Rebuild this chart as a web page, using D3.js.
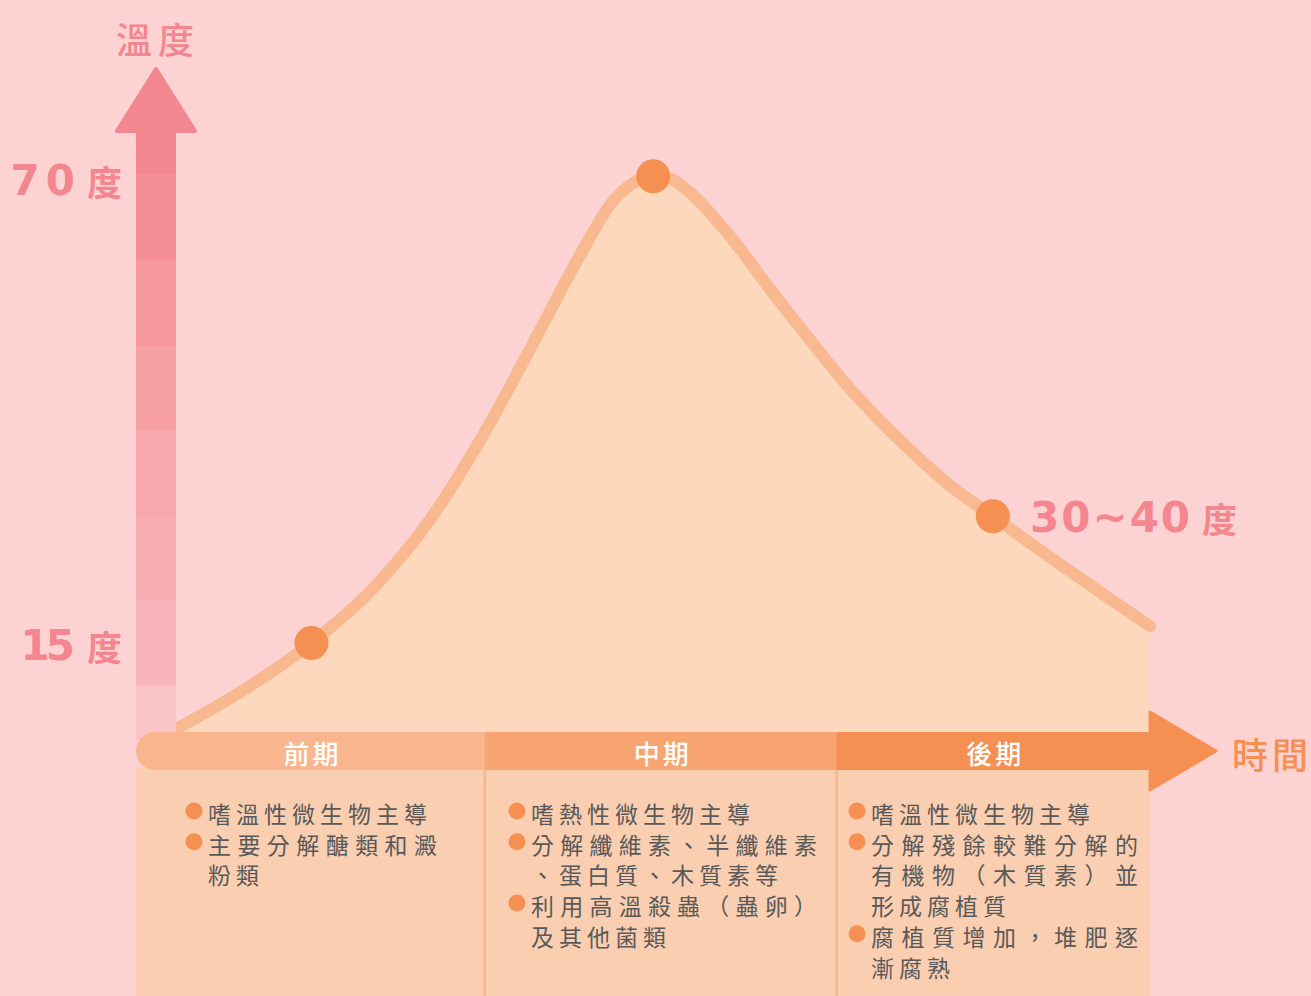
<!DOCTYPE html>
<html>
<head>
<meta charset="utf-8">
<script src="https://cdn.jsdelivr.net/npm/d3@7"></script>
<style>
  html, body { margin: 0; padding: 0; background: #FCD3D2; }
  svg { display: block; }
  .cjk { font-family: "Noto Sans CJK TC", "Noto Sans CJK SC", sans-serif; }
</style>
</head>
<body>
<svg id="chart" width="1311" height="996"></svg>
<script>
// curve samples: time (0-100 across the time axis) and temperature
const curveTimes = [3.9, 10.3, 17.3, 23.1, 29.0, 34.9, 39.8, 43.8, 47.2, 49.2, 51.0, 52.9, 54.6, 58.6, 62.5, 66.5, 70.4, 75.4, 80.3, 84.5, 90.1, 95.1, 100];
const curveTemps = [4.8, 9.2, 15.0, 21.1, 29.6, 41.0, 51.9, 60.9, 67.5, 69.5, 70.2, 69.8, 68.3, 63.1, 56.9, 50.8, 45.1, 38.9, 33.6, 30.0, 25.2, 21.0, 17.0];

// highlighted points
const markerTimes = [17.3, 51.0, 84.5];
const markerTemps = [15, 70.2, 30];

// temperature labels
const tempTicks = [15, 70];
const tempTickLabels = ["15", "70"];
const rangeLabel = "30~40";

// phases
const phaseNames = ["前期", "中期", "後期"];
const phaseBounds = [0, 34.4, 69.1, 100];
const phaseNotes = [
  [["嗜溫性微生物主導"], ["主要分解醣類和澱", "粉類"]],
  [["嗜熱性微生物主導"], ["分解纖維素、半纖維素", "、蛋白質、木質素等"], ["利用高溫殺蟲（蟲卵）", "及其他菌類"]],
  [["嗜溫性微生物主導"], ["分解殘餘較難分解的", "有機物（木質素）並", "形成腐植質"], ["腐植質增加，堆肥逐", "漸腐熟"]]
];

const svg = d3.select("#chart");

const x = d3.scaleLinear().domain([0, 100]).range([136, 1150]);
const y = d3.scaleLinear().domain([15, 70]).range([643, 178]);

const baseY = 735;
const barTop = 732, barH = 38;
const smooth = d3.curveMonotoneX;

// ---- area + curve
const pts = curveTimes.map((t, i) => [t, curveTemps[i]]);

svg.append("path")
  .datum(pts)
  .attr("fill", "#FDD8BD")
  .attr("d", d3.area()
    .x(d => x(d[0]))
    .y0(baseY)
    .y1(d => y(d[1]))
    .curve(smooth));

svg.append("path")
  .datum(pts)
  .attr("fill", "none")
  .attr("stroke", "#F9B990")
  .attr("stroke-width", 12)
  .attr("stroke-linecap", "round")
  .attr("d", d3.line()
    .x(d => x(d[0]))
    .y(d => y(d[1]))
    .curve(smooth));

// ---- vertical temperature arrow
const segColors = ["#F38790", "#F48E95", "#F5979D", "#F69FA5", "#F7A7AD", "#F7ACB1", "#F8B5B9", "#FAC3C6"];
const segEdges = [133, 174, 259.5, 345, 430, 515, 600, 685.5, 740];
svg.append("g").selectAll("rect")
  .data(segColors)
  .join("rect")
  .attr("x", 136)
  .attr("width", 40)
  .attr("y", (d, i) => segEdges[i])
  .attr("height", (d, i) => segEdges[i + 1] - segEdges[i] + 0.5)
  .attr("fill", d => d);

svg.append("path")
  .attr("d", "M156,69 L117,131 L195,131 Z")
  .attr("fill", "#F38790")
  .attr("stroke", "#F38790")
  .attr("stroke-width", 4)
  .attr("stroke-linejoin", "round");

// ---- columns under the time bar
const colGroup = svg.append("g");
colGroup.append("rect")
  .attr("x", x(0)).attr("y", barTop + barH - 2)
  .attr("width", x(100) - x(0)).attr("height", 996 - barTop - barH + 2)
  .attr("fill", "#FACEB0");

colGroup.selectAll("line")
  .data(phaseBounds.slice(1, 3))
  .join("line")
  .attr("x1", d => x(d)).attr("x2", d => x(d))
  .attr("y1", barTop + barH).attr("y2", 996)
  .attr("stroke", "#F9B68E")
  .attr("stroke-width", 2.5);

// ---- time bar
const barColors = ["#F9B68E", "#F7A470", "#F58F52"];
const bar = svg.append("g");
bar.append("rect")
  .attr("x", x(0)).attr("y", barTop)
  .attr("width", 60).attr("height", barH)
  .attr("rx", barH / 2)
  .attr("fill", barColors[0]);
bar.selectAll("rect.seg")
  .data(phaseNames)
  .join("rect")
  .attr("class", "seg")
  .attr("x", (d, i) => i === 0 ? x(0) + barH / 2 : x(phaseBounds[i]))
  .attr("y", barTop)
  .attr("width", (d, i) => x(phaseBounds[i + 1]) - (i === 0 ? x(0) + barH / 2 : x(phaseBounds[i])) + (i < 2 ? 0.5 : 0))
  .attr("height", barH)
  .attr("fill", (d, i) => barColors[i]);

const ax = x(100);
bar.append("path")
  .attr("d", `M${ax},712 L${ax + 66},751 L${ax},790 Z`)
  .attr("fill", barColors[2])
  .attr("stroke", barColors[2])
  .attr("stroke-width", 3)
  .attr("stroke-linejoin", "round");

bar.selectAll("text")
  .data(phaseNames)
  .join("text")
  .attr("class", "cjk")
  .attr("x", (d, i) => (x(phaseBounds[i]) + x(phaseBounds[i + 1])) / 2 + 2)
  .attr("y", barTop + barH / 2 + 1)
  .attr("text-anchor", "middle")
  .attr("dominant-baseline", "central")
  .attr("fill", "#fff")
  .attr("font-size", 26)
  .attr("font-weight", 500)
  .attr("letter-spacing", 3)
  .text(d => d);

// ---- markers
svg.append("g").selectAll("circle")
  .data(markerTimes)
  .join("circle")
  .attr("cx", d => x(d))
  .attr("cy", (d, i) => y(markerTemps[i]))
  .attr("r", 17)
  .attr("fill", "#F58F52");

// ---- axis titles
svg.append("text")
  .attr("class", "cjk")
  .attr("x", 158).attr("y", 38)
  .attr("text-anchor", "middle")
  .attr("dominant-baseline", "central")
  .attr("font-size", 36)
  .attr("font-weight", 500)
  .attr("letter-spacing", 6)
  .attr("fill", "#F3868E")
  .text("溫度");

svg.append("text")
  .attr("class", "cjk")
  .attr("x", 1232).attr("y", 753)
  .attr("dominant-baseline", "central")
  .attr("font-size", 36)
  .attr("font-weight", 500)
  .attr("letter-spacing", 4)
  .attr("fill", "#F58F52")
  .text("時間");

// ---- temperature labels
function tempLabel(g, num, px, py, anchor, spacing) {
  const t = g.append("text")
    .attr("x", px).attr("y", py)
    .attr("text-anchor", anchor)
    .attr("dominant-baseline", "central")
    .attr("fill", "#F3868E");
  t.append("tspan")
    .attr("font-family", "'DejaVu Sans', sans-serif")
    .attr("font-weight", "bold")
    .attr("font-size", 42)
    .attr("letter-spacing", spacing)
    .text(num);
  t.append("tspan")
    .attr("class", "cjk")
    .attr("dx", 12 - spacing)
    .attr("font-weight", "bold")
    .attr("font-size", 35)
    .text("度");
}
const labels = svg.append("g");
// "1" is narrow in the original face, so pull that label tighter
tempTicks.forEach((v, i) => tempLabel(labels, tempTickLabels[i], 122, y(v) + 2, "end", tempTickLabels[i][0] === "1" ? -4 : 6));
tempLabel(labels, rangeLabel, 1030, y(markerTemps[2]) + 1, "start", 2);

// ---- notes
const colText = [
  { bx: 194, tx: 208, w: 229 },
  { bx: 517, tx: 531, w: 286 },
  { bx: 857, tx: 871, w: 267 }
];
const lineH = 30.7, firstLine = 813;
const notes = svg.append("g").attr("class", "cjk");
phaseNotes.forEach((bullets, c) => {
  let row = 0;
  bullets.forEach(lines => {
    notes.append("circle")
      .attr("cx", colText[c].bx)
      .attr("cy", firstLine + row * lineH - 2)
      .attr("r", 8.5)
      .attr("fill", "#F58F52");
    lines.forEach((ln, k) => {
      const t = notes.append("text")
        .attr("x", colText[c].tx)
        .attr("y", firstLine + row * lineH)
        .attr("dominant-baseline", "central")
        .attr("font-size", 23)
        .attr("fill", "#595959")
        .text(ln);
      if (k < lines.length - 1) {
        t.attr("textLength", colText[c].w).attr("lengthAdjust", "spacing");
      } else {
        t.attr("letter-spacing", 5);
      }
      row++;
    });
  });
});
</script>
</body>
</html>
